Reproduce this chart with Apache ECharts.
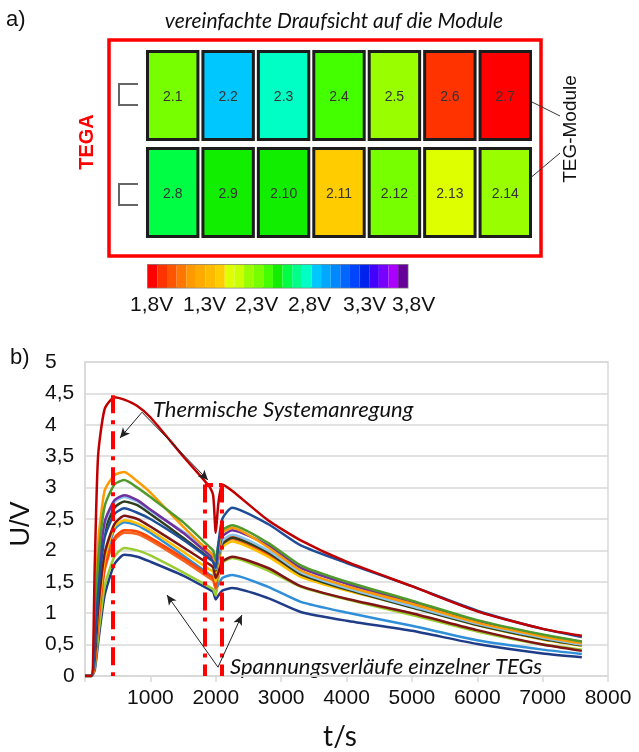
<!DOCTYPE html>
<html lang="de">
<head>
<meta charset="UTF-8">
<title>TEG-Module Spannungsverläufe</title>
<style>
    html, body { margin: 0; padding: 0; background: #fff; }
    #main { width: 639px; height: 752px; }
</style>
<script src="https://cdn.jsdelivr.net/npm/echarts@6/dist/echarts.min.js"></script>
</head>
<body>
<div id="main"></div>
<script>
    // Zeitpunkte in s
    var zeit = [0, 100, 150, 200, 300, 450, 600, 800, 1000, 1500, 1900, 1960, 2000, 2040, 2100, 2250, 2800, 3300, 4000, 5000, 6000, 7000, 7600];

    // Spannungsverläufe der einzelnen TEGs in V
    var uDunkelblau = [0, 0, 0.45, 1.3, 2.2, 2.58, 2.67, 2.6, 2.5, 2.17, 1.87, 1.82, 1.72, 2.1, 2.5, 2.68, 2.42, 2.08, 1.8, 1.43, 1.04, 0.75, 0.62];
    var uGruen = [0, 0, 0.65, 1.8, 2.7, 3.05, 3.12, 3.0, 2.85, 2.45, 2.06, 2.0, 1.85, 2.1, 2.32, 2.4, 2.12, 1.76, 1.5, 1.2, 0.89, 0.66, 0.55];
    var uOrange = [0, 0, 0.85, 2.1, 2.95, 3.2, 3.25, 3.1, 2.92, 2.38, 1.98, 1.92, 1.76, 2.0, 2.28, 2.36, 2.05, 1.68, 1.43, 1.15, 0.85, 0.63, 0.52];
    var uLila = [0, 0, 0.55, 1.55, 2.45, 2.8, 2.88, 2.8, 2.65, 2.28, 1.93, 1.88, 1.74, 1.95, 2.22, 2.32, 2.08, 1.72, 1.47, 1.17, 0.87, 0.65, 0.54];
    var uHellblau = [0, 0, 0.5, 1.45, 2.4, 2.77, 2.85, 2.78, 2.63, 2.3, 1.98, 1.92, 1.7, 1.9, 2.15, 2.25, 2.0, 1.65, 1.4, 1.11, 0.83, 0.61, 0.5];
    var uOliv = [0, 0, 0.4, 1.35, 2.3, 2.68, 2.78, 2.72, 2.58, 2.2, 1.88, 1.83, 1.68, 1.88, 2.1, 2.2, 1.97, 1.62, 1.38, 1.09, 0.81, 0.59, 0.49];
    var uBraun = [0, 0, 0.3, 1.05, 1.95, 2.42, 2.55, 2.5, 2.38, 2.05, 1.78, 1.73, 1.56, 1.65, 1.82, 1.9, 1.72, 1.43, 1.23, 1.0, 0.73, 0.5, 0.4];
    var uGelb = [0, 0, 0.28, 0.95, 1.85, 2.38, 2.48, 2.43, 2.32, 1.98, 1.7, 1.66, 1.5, 1.8, 2.05, 2.14, 1.9, 1.58, 1.36, 1.1, 0.81, 0.58, 0.48];
    var uBlau = [0, 0, 0.25, 0.9, 1.8, 2.33, 2.45, 2.4, 2.28, 1.92, 1.62, 1.58, 1.4, 1.45, 1.56, 1.61, 1.42, 1.18, 1.01, 0.8, 0.57, 0.42, 0.35];
    var uOrangerot = [0, 0, 0.22, 0.85, 1.72, 2.2, 2.32, 2.3, 2.2, 1.88, 1.6, 1.56, 1.42, 1.8, 2.12, 2.22, 1.95, 1.63, 1.4, 1.13, 0.84, 0.6, 0.5];
    var uOrangerot2 = [0, 0, 0.2, 0.8, 1.68, 2.16, 2.28, 2.26, 2.16, 1.84, 1.56, 1.52, 1.38, 1.76, 2.08, 2.18, 1.92, 1.6, 1.38, 1.11, 0.82, 0.59, 0.49];
    var uGelbgruen = [0, 0, 0.15, 0.62, 1.42, 1.9, 2.04, 2.0, 1.92, 1.65, 1.42, 1.38, 1.28, 1.55, 1.8, 1.88, 1.68, 1.42, 1.22, 0.97, 0.71, 0.5, 0.42];
    var uMarine = [0, 0, 0.1, 0.52, 1.28, 1.78, 1.93, 1.9, 1.82, 1.6, 1.38, 1.34, 1.22, 1.28, 1.36, 1.4, 1.24, 1.02, 0.88, 0.72, 0.51, 0.36, 0.3];
    var uRot = [0, 0, 1.8, 3.5, 4.25, 4.44, 4.4, 4.3, 4.12, 3.5, 3.02, 2.88, 2.28, 2.75, 3.05, 2.95, 2.48, 2.16, 1.82, 1.43, 1.03, 0.75, 0.64];

    // Module (Draufsicht) und Farbstufe auf der Skala
    var modulNamen = [['2.1', '2.2', '2.3', '2.4', '2.5', '2.6', '2.7'],
                      ['2.8', '2.9', '2.10', '2.11', '2.12', '2.13', '2.14']];
    var modulStufe = [[12, 18, 17, 13, 11, 2, 1],
                      [15, 14, 14, 8, 12, 9, 11]];
    var skalaFarben = ['#ff0000', '#ff3300', '#ff5500', '#ff7700', '#ff9900', '#ffaa00', '#ffbb00', '#ffcc00',
                       '#ddff00', '#ccff00', '#99ff00', '#77ff00', '#44ff00', '#11ee00', '#00ff44', '#00ff88',
                       '#00ffc4', '#00c8ff', '#00a8ff', '#0088ff', '#0066ff', '#0044ff', '#0022ee', '#4400ff',
                       '#7700ff', '#aa00ff', '#660099'];
    var skalaText = ['1,8V', '1,3V', '2,3V', '2,8V', '3,3V', '3,8V'];

    var kurven = [
        {farbe: '#1f3c88', werte: uMarine},
        {farbe: '#9acd32', werte: uGelbgruen},
        {farbe: '#2f8fd8', werte: uBlau},
        {farbe: '#f26522', werte: uOrangerot2},
        {farbe: '#ff4500', werte: uOrangerot},
        {farbe: '#ffc000', werte: uGelb},
        {farbe: '#7f1515', werte: uBraun},
        {farbe: '#2f3f1f', werte: uOliv},
        {farbe: '#8cc4ec', werte: uHellblau},
        {farbe: '#7030a0', werte: uLila},
        {farbe: '#ff9900', werte: uOrange},
        {farbe: '#4f9a2b', werte: uGruen},
        {farbe: '#1f4e99', werte: uDunkelblau},
        {farbe: '#c00000', werte: uRot}
    ];

    var serien = kurven.map(function (k) {
        return {
            type: 'line',
            xAxisIndex: 0,
            yAxisIndex: 0,
            showSymbol: false,
            smooth: 0.2,
            lineStyle: {color: k.farbe, width: 2.5},
            data: zeit.map(function (t, i) { return [t, k.werte[i]]; })
        };
    });

    // Markierungen (rote Strichlinien, Pfeile)
    var rot = {color: '#ff0000', width: 4};
    serien.push({
        type: 'line', xAxisIndex: 0, yAxisIndex: 0, data: [], clip: false, silent: true,
        markLine: {
            silent: true, symbol: 'none', label: {show: false}, animation: false,
            data: [
                [{coord: [-75, 4.47], lineStyle: Object.assign({type: [12, 6]}, rot)}, {coord: [430, 4.47]}],
                [{coord: [430, 4.47], lineStyle: Object.assign({type: [18, 7, 4, 7]}, rot)}, {coord: [430, 0]}],
                [{coord: [1835, 3.05], lineStyle: Object.assign({type: [8, 6]}, rot)}, {coord: [2095, 3.05]}],
                [{coord: [1835, 3.05], lineStyle: Object.assign({type: [18, 7, 4, 7]}, rot)}, {coord: [1835, 0]}],
                [{coord: [2095, 3.05], lineStyle: Object.assign({type: [18, 7, 4, 7]}, rot)}, {coord: [2095, 0]}]
            ]
        }
    });
    var pfeil = {color: '#222', width: 1, type: 'solid'};
    serien.push({
        type: 'line', xAxisIndex: 0, yAxisIndex: 0, data: [], clip: false, silent: true,
        markLine: {
            silent: true, symbol: ['none', 'arrow'], symbolSize: [7, 10], label: {show: false}, animation: false,
            data: [
                [{coord: [872, 4.2], lineStyle: pfeil}, {coord: [535, 3.79]}],
                [{coord: [872, 4.2], lineStyle: pfeil}, {coord: [1881, 3.12]}],
                [{coord: [2034, 0.14], lineStyle: pfeil}, {coord: [1254, 1.29]}],
                [{coord: [2034, 0.14], lineStyle: pfeil}, {coord: [2400, 0.97]}]
            ]
        }
    });

    // Module als Zellen
    var modulDaten = [];
    modulNamen.forEach(function (reihe, r) {
        reihe.forEach(function (name, c) {
            modulDaten.push([c, r, modulStufe[r][c], name]);
        });
    });
    serien.push({
        type: 'custom',
        xAxisIndex: 1,
        yAxisIndex: 1,
        data: modulDaten,
        renderItem: function (params, api) {
            var p = api.coord([api.value(0), api.value(1)]);
            var s = api.size([1, 1]);
            var w = s[0] - 5, h = 88;
            return {
                type: 'group',
                children: [
                    {type: 'rect', shape: {x: p[0] - w / 2, y: p[1] - h / 2, width: w, height: h},
                        style: {fill: api.visual('color'), stroke: '#1c1c1c', lineWidth: 3}},
                    {type: 'text', x: p[0], y: p[1] + 2,
                        style: {text: modulDaten[params.dataIndex][3], textAlign: 'center', textVerticalAlign: 'middle',
                            font: '14px "Liberation Sans Narrow", "Liberation Sans", sans-serif', fill: '#333'}}
                ]
            };
        }
    });

    var chart = echarts.init(document.getElementById('main'));
    var option = {
        animation: false,
        backgroundColor: '#fff',
        grid: [
            {left: 85, right: 31, top: 362, bottom: 76, show: true, borderColor: '#d9d9d9', borderWidth: 1.5,
                containLabel: false, outerBoundsMode: 'none'},
            {left: 145, top: 47, width: 388, height: 194, containLabel: false, outerBoundsMode: 'none'}
        ],
        xAxis: [
            {
                type: 'value', gridIndex: 0, min: 0, max: 8000, interval: 1000,
                axisLine: {show: true, lineStyle: {color: '#d9d9d9', width: 1.5}},
                axisTick: {show: true, length: 6, lineStyle: {color: '#d9d9d9', width: 1.5}},
                splitLine: {show: false},
                axisLabel: {
                    fontSize: 21, color: '#111', margin: 12, fontFamily: '"Liberation Sans", Arial, sans-serif',
                    formatter: function (v) { return v === 0 ? '' : String(v); }
                }
            },
            {type: 'category', gridIndex: 1, data: ['1', '2', '3', '4', '5', '6', '7'], show: false}
        ],
        yAxis: [
            {
                type: 'value', gridIndex: 0, min: 0, max: 5, interval: 0.5,
                axisLine: {show: true, lineStyle: {color: '#d9d9d9', width: 1.5}},
                axisTick: {show: false},
                splitLine: {lineStyle: {color: '#d9d9d9', width: 1.5}},
                axisLabel: {
                    fontSize: 21, color: '#111', margin: 40, align: 'left',
                    fontFamily: '"Liberation Sans", Arial, sans-serif',
                    formatter: function (v) { return v === 0 ? '{n|0}' : String(v).replace('.', ','); },
                    rich: {n: {fontSize: 21, color: '#111', fontFamily: '"Liberation Sans", Arial, sans-serif', padding: [0, 0, 0, 18]}}
                }
            },
            {type: 'category', gridIndex: 1, data: ['oben', 'unten'], inverse: true, show: false}
        ],
        visualMap: {
            type: 'piecewise',
            seriesIndex: serien.length - 1,
            dimension: 2,
            orient: 'horizontal',
            left: 147, top: 264,
            itemWidth: 260 / skalaFarben.length, itemHeight: 23, itemGap: 0,
            itemSymbol: 'rect',
            showLabel: false,
            selectedMode: false,
            hoverLink: false,
            padding: 0,
            borderColor: '#888', borderWidth: 1.5,
            pieces: skalaFarben.map(function (f, i) { return {value: i + 1, color: f}; })
        },
        graphic: [
            {type: 'text', x: 6, y: 20, style: {text: 'a)', font: '22px "Liberation Sans", Arial', fill: '#111', textVerticalAlign: 'middle'}},
            {type: 'text', x: 334, y: 21, style: {text: 'vereinfachte Draufsicht auf die Module', font: 'italic 21px Lato, sans-serif', fill: '#111', textAlign: 'center', textVerticalAlign: 'middle'}},
            {type: 'rect', shape: {x: 109, y: 40, width: 432, height: 216}, style: {fill: 'none', stroke: '#ff0000', lineWidth: 3.5}},
            {type: 'polyline', shape: {points: [[138, 84], [119, 84], [119, 105], [138, 105]]}, style: {fill: 'none', stroke: '#666', lineWidth: 2}},
            {type: 'polyline', shape: {points: [[138, 184], [119, 184], [119, 205], [138, 205]]}, style: {fill: 'none', stroke: '#666', lineWidth: 2}},
            {type: 'text', x: 87, y: 142, rotation: Math.PI / 2, style: {text: 'TEGA', font: 'bold 20px "Liberation Sans", Arial', fill: '#ff0000', textAlign: 'center', textVerticalAlign: 'middle'}},
            {type: 'text', x: 571, y: 129, rotation: Math.PI / 2, style: {text: 'TEG-Module', font: '19px "Liberation Sans", Arial', fill: '#111', textAlign: 'center', textVerticalAlign: 'middle'}},
            {type: 'line', shape: {x1: 522, y1: 97, x2: 560, y2: 116}, style: {stroke: '#333', lineWidth: 1}},
            {type: 'line', shape: {x1: 522, y1: 185, x2: 560, y2: 153}, style: {stroke: '#333', lineWidth: 1}},
            {type: 'text', x: 10, y: 358, style: {text: 'b)', font: '22px "Liberation Sans", Arial', fill: '#111', textVerticalAlign: 'middle'}},
            {type: 'text', x: 22, y: 524, rotation: Math.PI / 2, style: {text: 'U/V', font: '27px "Liberation Sans", Arial', fill: '#111', textAlign: 'center', textVerticalAlign: 'middle'}},
            {type: 'text', x: 340, y: 737, style: {text: 't/s', font: '28px Lato, sans-serif', fill: '#111', textAlign: 'center', textVerticalAlign: 'middle'}},
            {type: 'text', x: 153, y: 410, style: {text: 'Thermische Systemanregung', font: 'italic 22px Lato, sans-serif', fill: '#111', textVerticalAlign: 'middle'}},
            {type: 'text', x: 230, y: 667, style: {text: 'Spannungsverläufe einzelner TEGs', font: 'italic 22px Lato, sans-serif', fill: '#111', textVerticalAlign: 'middle'}}
        ].concat(skalaText.map(function (t, i) {
            var xs = [130, 183, 235, 288, 343, 392];
            return {type: 'text', x: xs[i], y: 305, style: {text: t, font: '21px "Liberation Sans", Arial', fill: '#111', textVerticalAlign: 'middle'}};
        })),
        series: serien
    };
    chart.setOption(option);
</script>
</body>
</html>
